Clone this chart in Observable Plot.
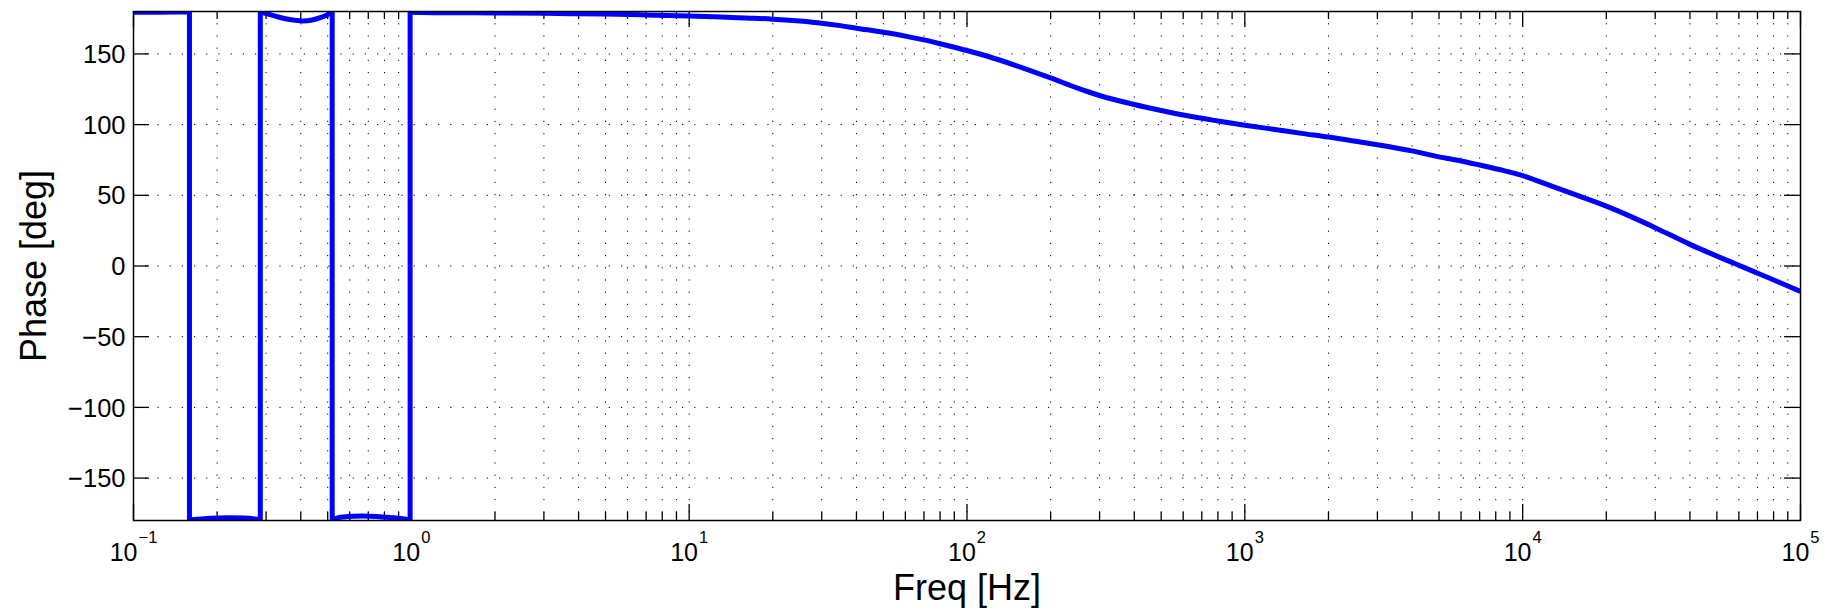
<!DOCTYPE html>
<html>
<head>
<meta charset="utf-8">
<script src="https://cdn.jsdelivr.net/npm/d3@7"></script>
<script src="https://cdn.jsdelivr.net/npm/@observablehq/plot@0.6"></script>
<style>
  html, body { margin: 0; padding: 0; background: #fff; }
  #chart svg { display: block; }
</style>
</head>
<body>
<div id="chart"></div>
<script>
// ---- data ----
const freq = [0.1, 0.12, 0.14, 0.159, 0.159, 0.18, 0.2, 0.22, 0.25, 0.27, 0.286, 0.286,
  0.31, 0.34, 0.37, 0.405, 0.44, 0.47, 0.5, 0.519, 0.519, 0.54, 0.57, 0.62, 0.67, 0.75,
  0.85, 0.93, 0.99, 0.99, 1.2, 1.5, 2, 3, 4, 5, 7, 10, 13, 16, 20, 25, 30, 35, 40, 50, 60,
  70, 80, 100, 120, 150, 200, 250, 300, 400, 500, 600, 800, 1000, 1300, 1600, 2000, 2400,
  3000, 4000, 5000, 6000, 7000, 8500, 10000, 13000, 16000, 20000, 25000, 30000, 40000,
  50000, 60000, 70000, 85000, 100000];
const phase = [179.4, 179.5, 179.6, 179.7, -179.7, -178.8, -178.3, -178.1, -178.3, -178.8, -179.6, 179.6,
  177.8, 175.6, 174.1, 173.3, 174.0, 175.6, 177.8, 179.6, -179.6, -178.3, -177.5, -177.0, -176.9, -177.2,
  -178.0, -178.7, -179.4, 179.4, 179.2, 179.1, 179.0, 178.7, 178.4, 178.2, 177.6, 176.8, 176.1, 175.4, 174.6, 173.2, 171.7, 170.0, 168.2, 165.3, 162.6,
  159.9, 157.2, 152.4, 148.0, 141.8, 133.0, 125.8, 120.6, 114.2, 110.0, 106.8, 102.6, 99.6, 96.4, 93.8, 91.2, 88.8,
  85.8, 81.4, 77.2, 74.3, 71.4, 67.6, 63.9, 55.8, 49.4, 42.3, 34.2, 27.1, 15.3,
  7.0, 0.5, -5.0, -12.0, -18.0];

const xMajorTicks = [0.1, 1, 10, 100, 1000, 10000, 100000];
const xMinorMultipliers = [2, 3, 4, 5, 6, 7, 8, 9];
const xMinorTicks = xMajorTicks.slice(0, -1).flatMap(d => xMinorMultipliers.map(m => +(d * m).toPrecision(3)));
const yTicks = [-150, -100, -50, 0, 50, 100, 150];
const xLabel = "Freq [Hz]";
const yLabel = "Phase [deg]";

// split the series into pieces at the phase wraps (repeated frequency = vertical jump)
let seg = 0;
const data = freq.map((f, i) => {
  if (i > 0 && f === freq[i - 1]) seg++;
  return {f, p: phase[i], seg};
});
const jumps = freq.filter((f, i) => i > 0 && f === freq[i - 1]);

// ---- layout ----
const W = 1836, H = 612;
const mL = 133, mR = 36, mT = 11, mB = 92;
const pw = W - mL - mR, ph = H - mT - mB;
const majorLen = 16, minorLen = 8;
const dots = "1.2,11";
const FONT = "'Liberation Sans', Arial, Helvetica, sans-serif";
const LW = 5;
const minus = v => v < 0 ? "\u2212" + (-v) : String(v);

const chart = Plot.plot({
  width: W,
  height: H,
  marginLeft: mL, marginRight: mR, marginTop: mT, marginBottom: mB,
  style: {fontFamily: FONT, color: "#000", background: "#fff"},
  x: {type: "log", domain: [0.1, 1e5], axis: null},
  y: {domain: [-180, 180], axis: null},
  marks: [
    // dotted grid
    Plot.ruleX(xMajorTicks.concat(xMinorTicks), {x: d => d, stroke: "#000", strokeWidth: 1, strokeDasharray: dots}),
    Plot.ruleY(yTicks, {y: d => d, stroke: "#000", strokeWidth: 1, strokeDasharray: dots}),
    // inward ticks on all four sides
    Plot.tickX(xMajorTicks, {x: d => d, insetTop: ph - majorLen, stroke: "#000", strokeWidth: 1.3}),
    Plot.tickX(xMajorTicks, {x: d => d, insetBottom: ph - majorLen, stroke: "#000", strokeWidth: 1.3}),
    Plot.tickX(xMinorTicks, {x: d => d, insetTop: ph - minorLen, stroke: "#000", strokeWidth: 1.3}),
    Plot.tickX(xMinorTicks, {x: d => d, insetBottom: ph - minorLen, stroke: "#000", strokeWidth: 1.3}),
    Plot.tickY(yTicks, {y: d => d, insetRight: pw - majorLen, stroke: "#000", strokeWidth: 1.3}),
    Plot.tickY(yTicks, {y: d => d, insetLeft: pw - majorLen, stroke: "#000", strokeWidth: 1.3}),
    // tick labels
    Plot.text(yTicks, {y: d => d, frameAnchor: "left", dx: -8, dy: 1, textAnchor: "end", text: d => minus(d),
      fontSize: 25.5, fill: "#000"}),
    Plot.text(xMajorTicks, {x: d => d, frameAnchor: "bottom", dy: 23, lineAnchor: "top", textAnchor: "middle",
      fontSize: 25, fill: "#000", text: d => "10^" + minus(Math.round(Math.log10(d)))}),
    // data line: smooth pieces + vertical phase wraps
    Plot.ruleX(jumps, {x: d => d, y1: -180, y2: 180, stroke: "#0000ff", strokeWidth: LW}),
    Plot.line(data, {x: "f", y: "p", z: "seg", stroke: "#0000ff", strokeWidth: LW, curve: "monotone-x", clip: true,
      strokeLinejoin: "round", strokeLinecap: "butt"}),
    Plot.frame({stroke: "#000", strokeWidth: 1.5}),
    // axis titles
    Plot.text([xLabel], {frameAnchor: "bottom", textAnchor: "middle", text: d => d, dy: 79.5, fontSize: 36, fill: "#000"}),
    Plot.text([yLabel], {frameAnchor: "left", textAnchor: "middle", text: d => d, rotate: -90, dx: -99, fontSize: 36, fill: "#000"})
  ]
});

document.getElementById("chart").appendChild(chart);

// superscript exponents on the x tick labels ("10^e" -> 10 with raised e)
Array.from(chart.querySelectorAll("text"))
  .filter(t => t.textContent.startsWith("10^"))
  .forEach(t => {
    const [b, e] = t.textContent.split("^");
    t.textContent = b;
    const ts = document.createElementNS("http://www.w3.org/2000/svg", "tspan");
    ts.setAttribute("dy", "-18");
    ts.setAttribute("dx", "1");
    ts.setAttribute("font-size", "16.5");
    ts.textContent = e;
    t.appendChild(ts);
  });
</script>
</body>
</html>
